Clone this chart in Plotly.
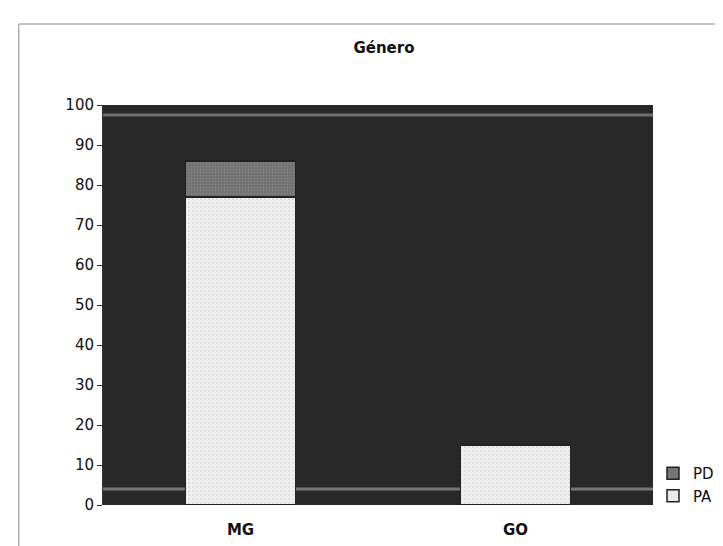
import plotly.graph_objects as go

categories = ["MG", "GO"]
pa_values = [77, 15]
pd_values = [9, 0]
y_ticks = [0, 10, 20, 30, 40, 50, 60, 70, 80, 90, 100]

fig = go.Figure()
fig.add_trace(go.Bar(
    x=categories, y=pa_values, name="PA",
    marker=dict(color="#eeeeee", line=dict(color="#222222", width=1.5),
                pattern=dict(shape=".", fgcolor="#b5b5b5", size=4, solidity=0.15)),
))
fig.add_trace(go.Bar(
    x=categories, y=pd_values, name="PD",
    marker=dict(color="#6f6f6f", line=dict(color="#222222", width=1.5),
                pattern=dict(shape=".", fgcolor="#9a9a9a", size=3, solidity=0.3)),
))

fig.update_layout(
    width=723, height=546,
    barmode="stack", bargap=0.6,
    paper_bgcolor="white", plot_bgcolor="#282828",
    margin=dict(l=95, r=60, t=97, b=49),
    title=dict(text="<b>Género</b>", x=0.52, xanchor="center", y=0.927, yanchor="middle",
               font=dict(family="DejaVu Sans", size=15, color="#111111")),
    font=dict(family="DejaVu Sans", size=15, color="#111111"),
    showlegend=True,
    legend=dict(x=1.0, y=0.12, xanchor="left", yanchor="top",
                font=dict(family="DejaVu Sans", size=15, color="#111111"),
                bgcolor="rgba(0,0,0,0)", itemwidth=30, tracegroupgap=0),
    shapes=[
        dict(type="rect", xref="paper", yref="paper",
             x0=-0.153, x1=1.2, y0=-0.3, y1=1.2025,
             line=dict(color="#888888", width=1), fillcolor="rgba(0,0,0,0)", layer="below"),
        dict(type="line", xref="paper", yref="paper", x0=0, x1=1, y0=0.975, y1=0.975,
             line=dict(color="rgba(170,170,170,0.55)", width=3), layer="below"),
        dict(type="line", xref="paper", yref="paper", x0=0, x1=1, y0=0.04, y1=0.04,
             line=dict(color="rgba(170,170,170,0.6)", width=3), layer="below"),
    ],
)
fig.update_xaxes(showgrid=False, showline=False, ticks="",
                 tickfont=dict(family="DejaVu Sans", size=15, color="#111111"),
                 ticklabelstandoff=14, tickprefix="<b>", ticksuffix="</b>")
fig.update_yaxes(range=[0, 100], tickvals=y_ticks, showgrid=False, zeroline=False,
                 showline=True, linecolor="#333333", linewidth=1,
                 ticks="outside", ticklen=5, tickcolor="#333333",
                 tickfont=dict(family="DejaVu Sans", size=15, color="#111111"))

fig.write_html("out.html")
